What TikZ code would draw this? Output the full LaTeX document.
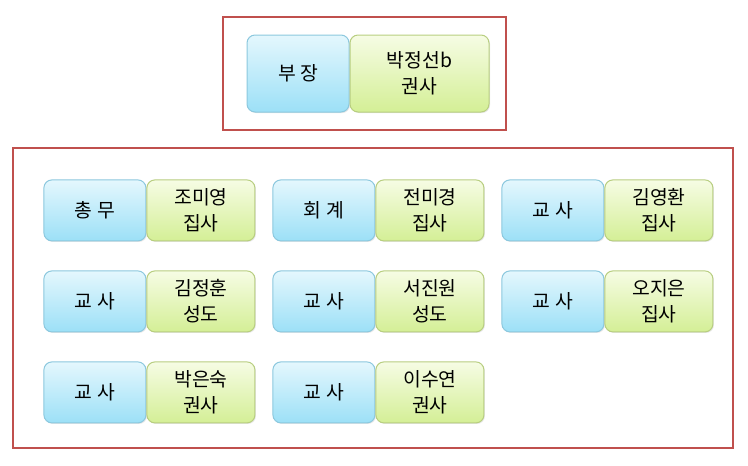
\documentclass[tikz,border=0pt]{standalone}
\usepackage{fontspec}
\setmainfont{Noto Sans CJK KR}
\usetikzlibrary{matrix,shadows}
\definecolor{roletop}{RGB}{228,247,253}
\definecolor{rolebot}{RGB}{156,224,247}
\definecolor{roleline}{RGB}{140,200,222}
\definecolor{nametop}{RGB}{246,252,228}
\definecolor{namebot}{RGB}{212,239,150}
\definecolor{nameline}{RGB}{184,206,128}
\definecolor{frame}{RGB}{192,80,77}

\begin{document}
\begin{tikzpicture}[x=0.75pt,y=-0.75pt
  ,font=\fontsize{14.5}{19.5}\selectfont
  ,semithick]
  \tikzstyle{rolebox}=[draw=roleline,line width=0.75pt
  ,rounded corners=6pt,top color=roletop,bottom color=rolebot
  ,drop shadow={shadow xshift=0.8pt,shadow yshift=-0.8pt,opacity=0.2}
  ,minimum width=76.5pt,minimum height=45.75pt,align=center,inner sep=0pt]
  \tikzstyle{namebox}=[rolebox,draw=nameline
  ,top color=nametop,bottom color=namebot,minimum width=81pt]
  \tikzstyle{redframe}=[draw=frame,line width=1.5pt]

  \useasboundingbox (0,0) rectangle (748,465);

  % top: head of department
  \draw[redframe] (223,17) rectangle (506,130);
  \node[rolebox,minimum height=57.75pt] (bj) at (298,73.5) {부 장};
  \node[namebox,minimum height=57.75pt,minimum width=104.25pt
  ,anchor=west] (bjn) at (bj.east) {박정선b\\권사};

  % bottom: staff
  \draw[redframe] (13,148) rectangle (733,448);
  \matrix (m) [matrix of nodes
  ,nodes={anchor=center}
  ,row sep=21.75pt,column sep=0pt
  ,anchor=north west,inner sep=0pt] at (43,179)
  {
    % row 1
    \node[rolebox](rl11) {총 무};	&
    \node[namebox](nm11) {조미영\\집사};	&[12.75pt]
    \node[rolebox](rl12) {회 계};	&
    \node[namebox](nm12) {전미경\\집사};	&[12.75pt]
    \node[rolebox](rl13) {교 사};	&
    \node[namebox](nm13) {김영환\\집사};	\\
    % row 2
    \node[rolebox](rl21) {교 사};	&
    \node[namebox](nm21) {김정훈\\성도};	&
    \node[rolebox](rl22) {교 사};	&
    \node[namebox](nm22) {서진원\\성도};	&
    \node[rolebox](rl23) {교 사};	&
    \node[namebox](nm23) {오지은\\집사};	\\
    % row 3
    \node[rolebox](rl31) {교 사};	&
    \node[namebox](nm31) {박은숙\\권사};	&
    \node[rolebox](rl32) {교 사};	&
    \node[namebox](nm32) {이수연\\권사};	\\
  };

\end{tikzpicture}
\end{document}
